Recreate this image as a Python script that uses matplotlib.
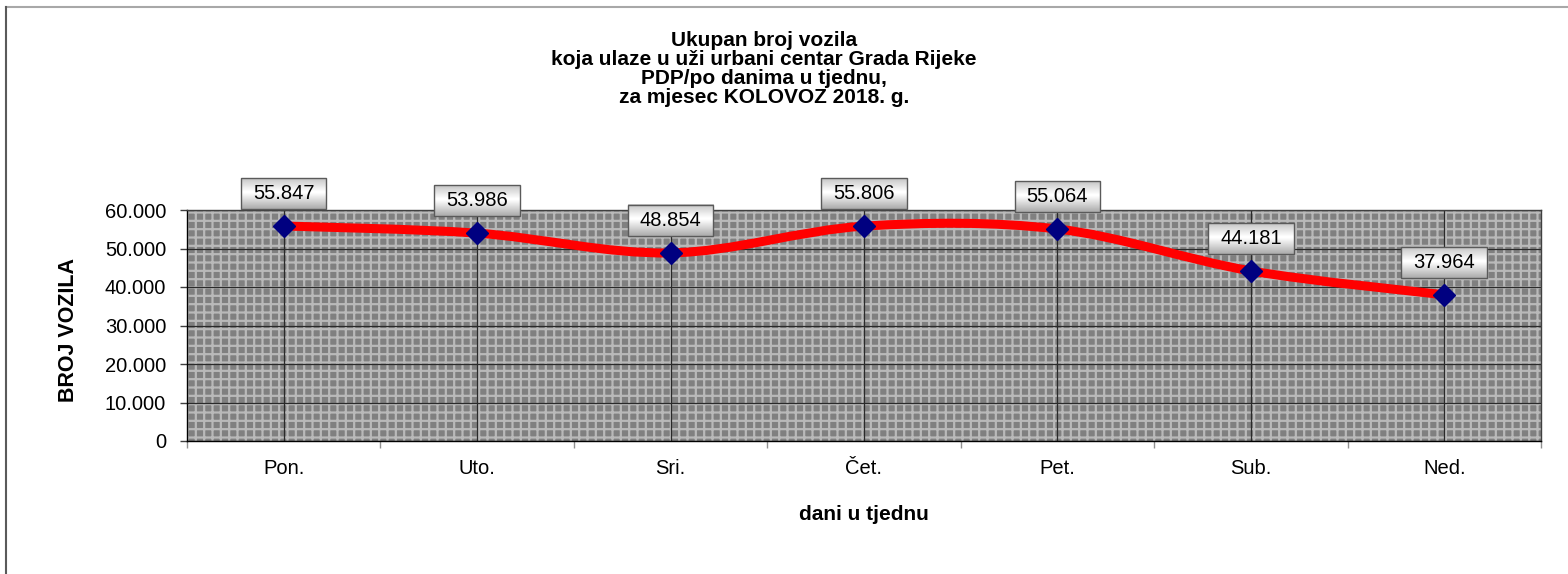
import numpy as np
import matplotlib
matplotlib.use("Agg")
import matplotlib.pyplot as plt
from matplotlib.path import Path
from matplotlib.patches import PathPatch, Rectangle
from matplotlib.lines import Line2D

plt.rcParams['font.family'] = ['Liberation Sans', 'DejaVu Sans']
plt.rcParams['hatch.linewidth'] = 1.6

days = ["Pon.", "Uto.", "Sri.", "Čet.", "Pet.", "Sub.", "Ned."]
vehicles = [55847, 53986, 48854, 55806, 55064, 44181, 37964]
value_labels = ["55.847", "53.986", "48.854", "55.806", "55.064", "44.181", "37.964"]
ytick_values = [0, 10000, 20000, 30000, 40000, 50000, 60000]
ytick_labels = ["0", "10.000", "20.000", "30.000", "40.000", "50.000", "60.000"]
title = ("Ukupan broj vozila\nkoja ulaze u uži urbani centar Grada Rijeke\n"
         "PDP/po danima u tjednu,\nza mjesec KOLOVOZ 2018. g.")
xlabel = "dani u tjednu"
ylabel = "BROJ VOZILA"

W, H = 1568, 574
fig = plt.figure(figsize=(W / 100, H / 100), dpi=100)
ax = fig.add_axes([187 / W, 1 - 441 / H, (1541 - 187) / W, (441 - 210) / H])

x = np.arange(len(days))
y = np.array(vehicles, dtype=float)

# background pattern
bg = Rectangle((0, 0), 1, 1, transform=ax.transAxes, facecolor='#808080',
               edgecolor='#b9b9b9', hatch='++', linewidth=0, zorder=0)
ax.add_patch(bg)

ax.set_xlim(-0.5, len(days) - 0.5)
ax.set_ylim(0, 60000)

# major grid lines
for v in ytick_values:
    ax.axhline(v, color='#2a2a2a', lw=0.9, zorder=1)
for xi in x:
    ax.axvline(xi, color='#2a2a2a', lw=0.9, zorder=1)

# smoothed line (Bezier, Excel-style)
pts = np.column_stack([x, y])
verts = [pts[0]]
codes = [Path.MOVETO]
n = len(pts)
for i in range(n - 1):
    p0 = pts[max(i - 1, 0)]
    p1 = pts[i]
    p2 = pts[i + 1]
    p3 = pts[min(i + 2, n - 1)]
    c1 = p1 + (p2 - p0) / 6.0
    c2 = p2 - (p3 - p1) / 6.0
    verts += [c1, c2, p2]
    codes += [Path.CURVE4] * 3
ax.add_patch(PathPatch(Path(verts, codes), facecolor='none', edgecolor='#ff0000',
                       lw=6.5, zorder=3, capstyle='butt', joinstyle='round'))

ax.plot(x, y, linestyle='none', marker='D', markersize=11, color='#000080',
        markeredgecolor='#000080', zorder=4)

# value labels
texts = []
for xi, yi, lab in zip(x, y, value_labels):
    t = ax.annotate(lab, (xi, yi), xytext=(0, 23.5), textcoords='offset points',
                    ha='center', va='center', fontsize=14.5, zorder=8)
    texts.append(t)

# spines / ticks
for s in ax.spines.values():
    s.set_color('#404040')
    s.set_linewidth(1.0)
    s.set_zorder(2)
ax.spines['left'].set_color('black')
ax.spines['bottom'].set_color('black')

ax.set_yticks(ytick_values)
ax.set_yticklabels(ytick_labels, fontsize=14.5)
ax.tick_params(axis='y', length=5, width=1, color='#404040', pad=10)
ax.set_xticks(x)
ax.set_xticklabels(days, fontsize=14.5)
ax.set_xticks(np.arange(-0.5, len(days), 1.0), minor=True)
ax.tick_params(axis='x', which='major', length=0, pad=13)
ax.tick_params(axis='x', which='minor', length=5, width=1, color='#909090')

fig.text(764 / W, 1 - 69 / H, title, ha='center', va='center', fontsize=15,
         fontweight='bold', linespacing=1.01)
fig.text(864 / W, 1 - 515 / H, xlabel, ha='center', va='center', fontsize=15,
         fontweight='bold')
fig.text(68 / W, 1 - 330 / H, ylabel, ha='center', va='center', fontsize=15.5,
         fontweight='bold', rotation=90)

# figure border
fig.add_artist(Line2D([6 / W, 1], [1 - 7 / H, 1 - 7 / H], transform=fig.transFigure,
                      color='#a8a8a8', lw=1.5))
fig.add_artist(Line2D([6 / W, 6 / W], [0, 1 - 7 / H], transform=fig.transFigure,
                      color='#5a5a5a', lw=1.5))

# label boxes with gradient fill
fig.canvas.draw()
renderer = fig.canvas.get_renderer()
prof = np.concatenate([np.linspace(0.78, 1.0, 10), np.linspace(1.0, 0.68, 12)])
grad = np.repeat(prof[:, None], 2, axis=1)
inv = ax.transData.inverted()
for t in texts:
    bb = t.get_window_extent(renderer)
    cx, cy = (bb.x0 + bb.x1) / 2, (bb.y0 + bb.y1) / 2
    hw = bb.width / 2 + 12
    hh = 15.5
    (x0, y0), (x1, y1) = inv.transform([[cx - hw, cy - hh], [cx + hw, cy + hh]])
    im = ax.imshow(grad, cmap='gray', vmin=0, vmax=1, extent=(x0, x1, y0, y1),
                   origin='upper', aspect='auto', zorder=6, interpolation='bilinear')
    im.set_clip_on(False)
    ax.add_patch(Rectangle((x0, y0), x1 - x0, y1 - y0, facecolor='none',
                           edgecolor='#5a5a5a', lw=1.0, zorder=7, clip_on=False))
ax.set_xlim(-0.5, len(days) - 0.5)
ax.set_ylim(0, 60000)

fig.savefig('out.png', dpi=100)
